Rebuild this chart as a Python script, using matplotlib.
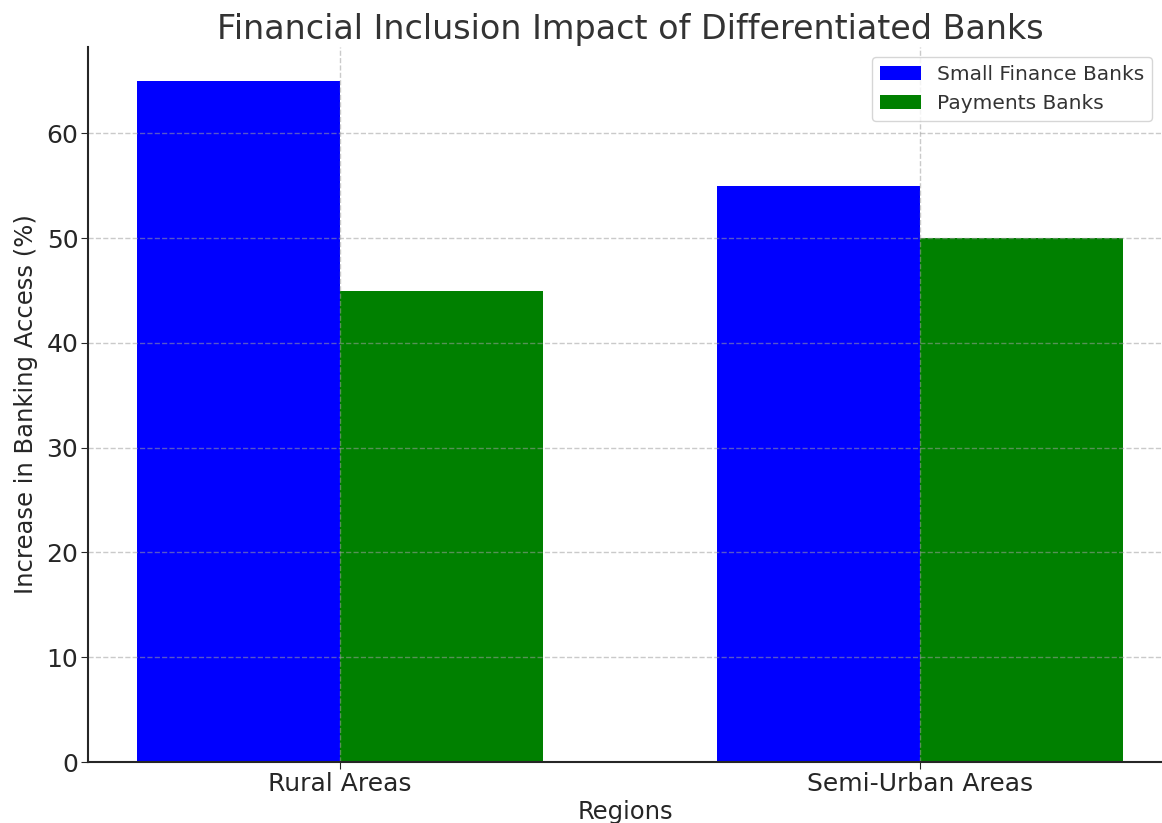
import numpy as np
import matplotlib.pyplot as plt

regions = ["Rural Areas", "Semi-Urban Areas"]
small_finance = [65, 55]
payments = [45, 50]
series_names = ["Small Finance Banks", "Payments Banks"]

fig = plt.figure(figsize=(11.62, 8.23), dpi=100)
ax = fig.add_axes([88 / 1162, 61 / 823, 1 - 88 / 1162, (762 - 47) / 823])

x = np.arange(len(regions))
width = 0.35
ax.bar(x - width / 2, small_finance, width, color="blue", label=series_names[0])
ax.bar(x + width / 2, payments, width, color="green", label=series_names[1])

ax.set_xlim(-0.434, 1.417)
ax.set_ylim(0, 68.25)
ax.set_xticks(x)
ax.set_xticklabels(regions)
ax.grid(True, linestyle="--", color="#a0a0a0", alpha=0.55, linewidth=1.0)

for side in ["top", "right"]:
    ax.spines[side].set_visible(False)
for side in ["left", "bottom"]:
    ax.spines[side].set_color("#262626")
    ax.spines[side].set_linewidth(1.5)

ax.tick_params(labelsize=18, colors="#262626", length=5, pad=2)
ax.set_xlabel("Regions", fontsize=17.5, color="#262626", labelpad=3)
ax.set_ylabel("Increase in Banking Access (%)", fontsize=17.5, color="#262626", labelpad=6)
ax.set_title("Financial Inclusion Impact of Differentiated Banks", fontsize=24, color="#333333", x=0.505)

leg = ax.legend(fontsize=14.5, loc="upper right", frameon=True, fancybox=True)
for t in leg.get_texts():
    t.set_color("#333333")

fig.savefig("out.png", dpi=100)
